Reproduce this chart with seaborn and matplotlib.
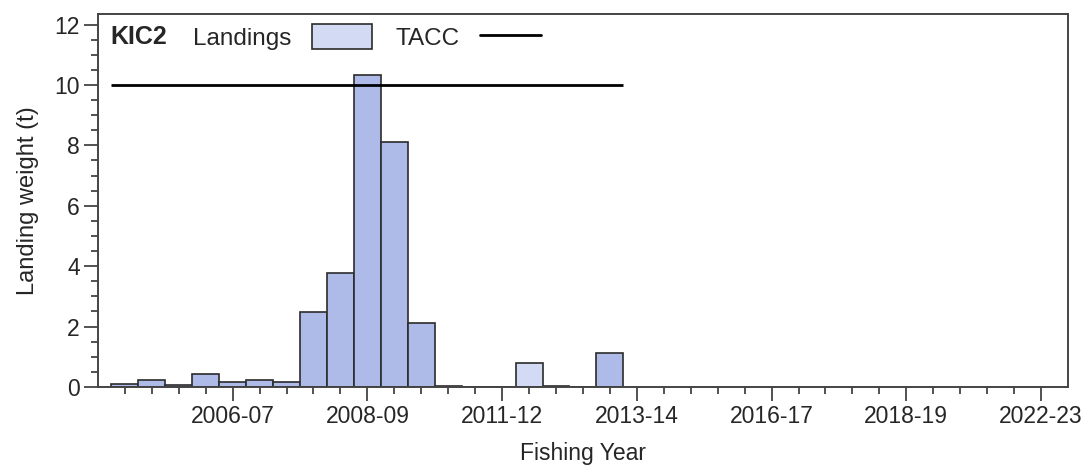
import numpy as np
import pandas as pd
import matplotlib.pyplot as plt
import seaborn as sns
from matplotlib.patches import Patch
from matplotlib.lines import Line2D
from matplotlib.ticker import MultipleLocator, FixedLocator


# fishing year slots (1..35) and landings (t)
slots = list(range(1, 36))
landings = [0.09, 0.22, 0.05, 0.42, 0.16, 0.22, 0.17, 2.48, 3.78, 10.32,
            8.10, 2.11, 0.04, 0.0, 0.0, 0.80, 0.04, 0.0, 1.13]
landings = landings + [np.nan] * (len(slots) - len(landings))
# slot 16 is drawn in the lighter shade
kind = ['main'] * len(slots)
kind[15] = 'light'

tacc = [10.0] * 19

tick_slots = [5, 10, 15, 20, 25, 30, 35]
tick_labels = ['2006-07', '2008-09', '2011-12', '2013-14', '2016-17', '2018-19', '2022-23']

data = pd.DataFrame({'slot': slots, 'landings': landings, 'kind': kind})

sns.set_style('white')
plt.rcParams['font.family'] = ['Liberation Sans', 'DejaVu Sans']

dark = '#aebbe9'
light = '#d3daf3'
edge = '#2b2b2b'
spine_c = '#444444'

fig, ax = plt.subplots(figsize=(10.88, 4.67), dpi=100)
fig.subplots_adjust(left=0.090, right=0.9816, top=0.970, bottom=0.1713)

sns.barplot(data=data.dropna(), x='slot', y='landings', hue='kind',
            palette={'main': dark, 'light': light}, native_scale=True,
            width=1, dodge=False, saturation=1, edgecolor=edge, linewidth=1.2,
            legend=False, ax=ax)

ax.stairs(tacc, np.arange(0.5, len(tacc) + 1), baseline=None,
          color='black', linewidth=2)

ax.set_xlim(0, 36)
ax.set_ylim(0, 12.35)

ax.xaxis.set_major_locator(FixedLocator(tick_slots))
ax.set_xticklabels(tick_labels)
ax.xaxis.set_minor_locator(FixedLocator([s for s in slots if s not in tick_slots]))
ax.yaxis.set_major_locator(MultipleLocator(2))
ax.yaxis.set_minor_locator(MultipleLocator(0.5))

ax.tick_params(axis='both', which='major', direction='out', length=10, width=1.3,
               color=spine_c, labelsize=16.5, pad=3)
ax.tick_params(axis='both', which='minor', direction='out', length=5, width=1.3,
               color=spine_c)
ax.tick_params(axis='x', which='both', bottom=True)
ax.tick_params(axis='y', which='both', left=True)

for s in ax.spines.values():
    s.set_color(spine_c)
    s.set_linewidth(1.4)

ax.set_xlabel('Fishing Year', fontsize=16.5, labelpad=10)
ax.set_ylabel('Landing weight (t)', fontsize=17, labelpad=11)

ax.text(0.0124, 0.938, 'KIC2', transform=ax.transAxes, fontsize=18,
        fontweight='bold', va='center', ha='left')

handles = [Patch(facecolor=light, edgecolor=edge, linewidth=1.2),
           Line2D([0], [0], color='black', linewidth=2)]
ax.legend(handles, ['Landings', 'TACC'], ncol=2, markerfirst=False,
          loc='center left', bbox_to_anchor=(0.0975, 0.938), frameon=False,
          fontsize=17.5, handlelength=2.5, handleheight=1.2,
          handletextpad=0.85, columnspacing=0.95, borderpad=0, borderaxespad=0)

plt.savefig('out.png', dpi=100)
